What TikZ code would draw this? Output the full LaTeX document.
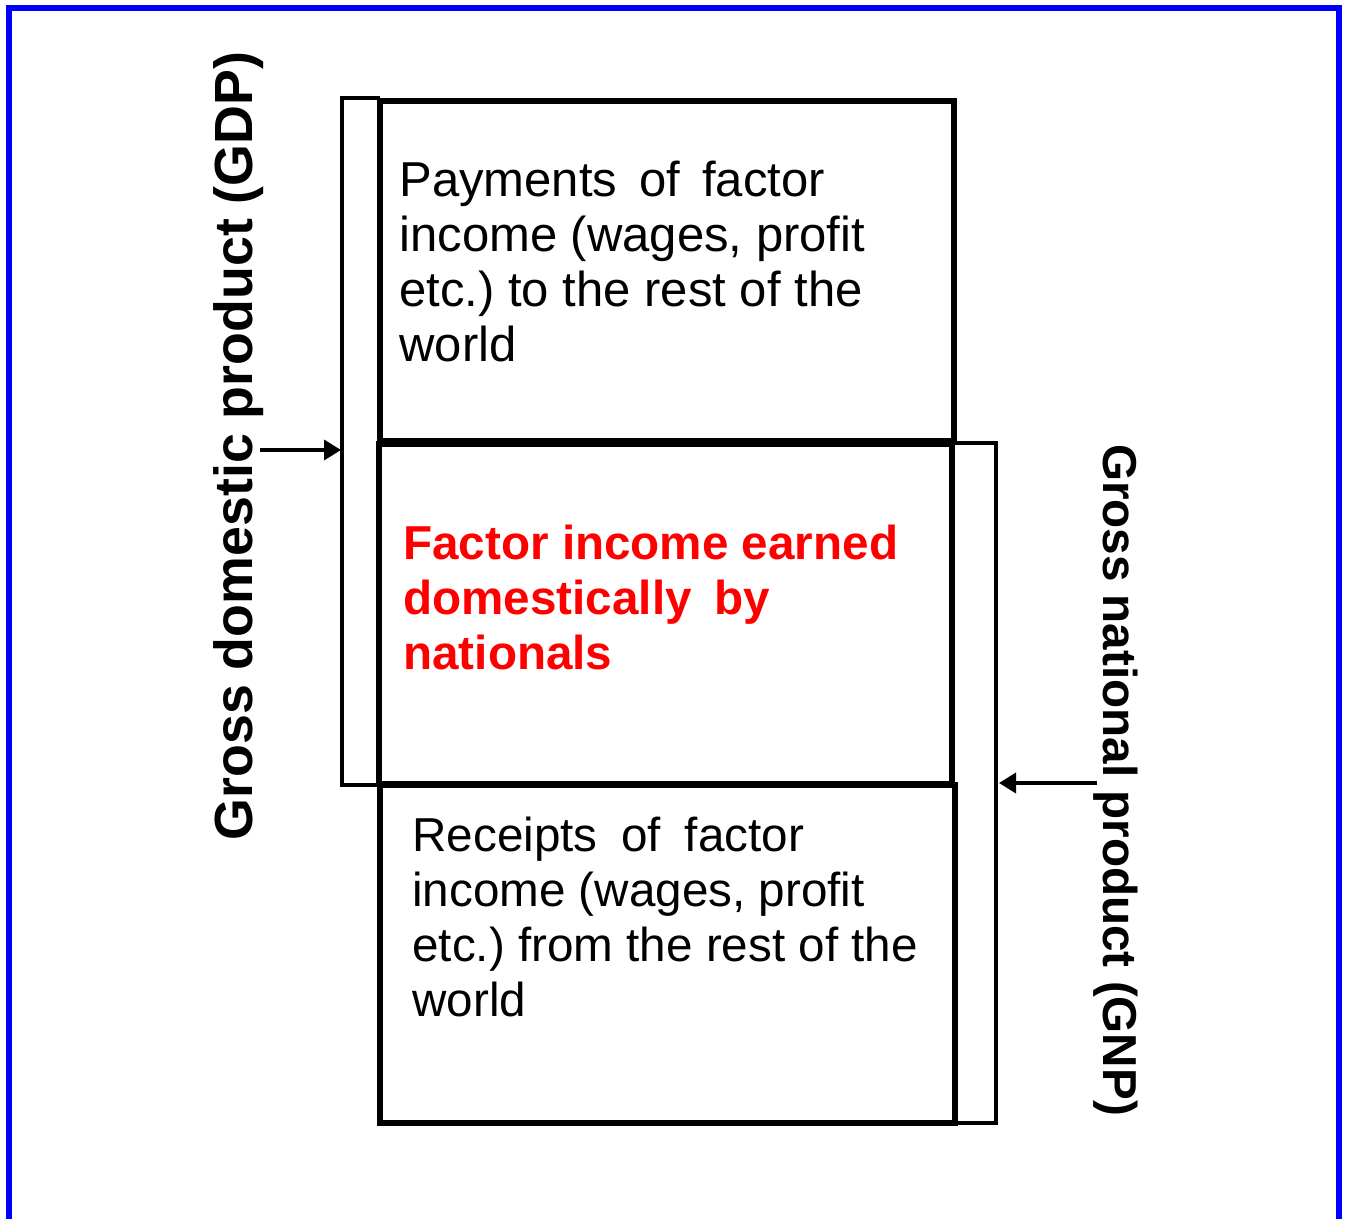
\documentclass[tikz,border=0pt]{standalone}
\usepackage{fontspec}
\setmainfont{Liberation Sans}
\usetikzlibrary{arrows.meta}
\definecolor{frameblue}{RGB}{0,0,255}
\definecolor{textred}{RGB}{255,0,0}
\frenchspacing
\begin{document}
\begin{tikzpicture}[x=0.02cm,y=-0.02cm,
    boxline/.style={line width=3.2pt},
    bracketline/.style={line width=2.3pt,line join=miter},
    pointer/.style={line width=2pt,-{Triangle[length=0.34cm,width=0.4cm]}},
    boxtext/.style={align=left,anchor=north west,inner sep=0pt},
    sidelabel/.style={anchor=base,inner sep=0pt,font=\bfseries\fontsize{#1}{#1}\selectfont}]
        % Fix the page size
        \useasboundingbox (0,0) rectangle (1347,1219);
        % Draw blue frame, open at the bottom
        \draw[frameblue,line width=3.4pt] (9,1240) -- (9,8) -- (1339,8) -- (1339,1240);
        % Draw the three boxes
        \draw[boxline] (380,101) rectangle (954,441);
        \draw[boxline] (379,444) rectangle (952,784);
        \draw[boxline] (380,785) rectangle (955,1123);
        % Draw box texts
        \node[boxtext,font=\fontsize{27.9}{31.2}\selectfont] (paytext) at (399,161) {
            Payments\hspace{.45em}of\hspace{.45em}factor\\
            income (wages, profit\\
            etc.) to the rest of the\\
            world
        };
        \node[boxtext,text=textred,font=\bfseries\fontsize{27.1}{31.2}\selectfont] (nattext) at (403,525) {
            Factor income earned\\
            domestically\hspace{.47em}by\\
            nationals
        };
        \node[boxtext,font=\fontsize{27.1}{31.2}\selectfont] (rectext) at (412,817) {
            Receipts\hspace{.5em}of\hspace{.5em}factor\\
            income (wages, profit\\
            etc.) from the rest of the\\
            world
        };
        % Draw brackets
        \draw[bracketline] (380,98) -- (342,98) -- (342,785) -- (378,785);
        \draw[bracketline,line width=1.9pt] (953,443) -- (996,443) -- (996,1123) -- (955,1123);
        % Draw side labels
        \node[sidelabel=30.6,rotate=90] (gdp) at (252,446) {Gross domestic product (GDP)};
        \node[sidelabel=27.1,rotate=-90] (gnp) at (1103,780) {Gross national product (GNP)};
        % Draw arrows to the brackets
        \coordinate (gdptail) at (260,450);
        \coordinate (gdptip) at (341,450);
        \coordinate (gnptail) at (1097,783);
        \coordinate (gnptip) at (999,783);
        \draw[pointer] (gdptail) -- (gdptip);
        \draw[pointer] (gnptail) -- (gnptip);
\end{tikzpicture}
\end{document}
